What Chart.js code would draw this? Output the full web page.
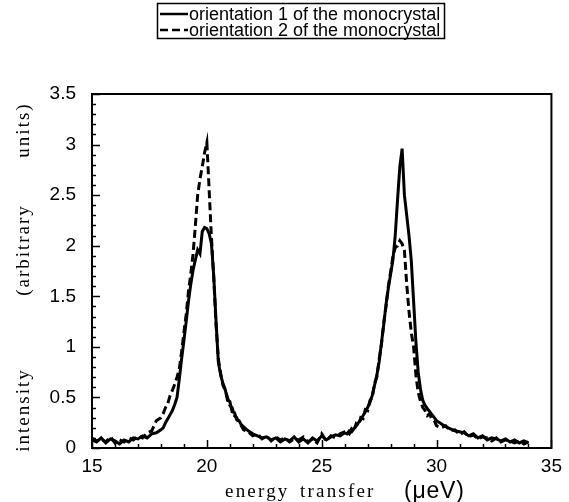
<!DOCTYPE html>
<html>
<head>
<meta charset="utf-8">
<script src="https://cdn.jsdelivr.net/npm/chart.js@4.4.0/dist/chart.umd.min.js"></script>
<style>
  body { margin: 0; background: #fff; }
</style>
</head>
<body>
<canvas id="spectrum" width="569" height="502"></canvas>
<script>
// ======================================
// Data: energy transfer (µeV), finer step around the two peaks
// ======================================
const energy = [
  15.0, 15.2, 15.4, 15.6, 15.8, 16.0, 16.2, 16.4, 16.6, 16.8, 17.0, 17.2, 17.4, 17.6, 17.8,
  18.0, 18.1, 18.2, 18.3, 18.4, 18.5, 18.6, 18.7, 18.8, 18.9, 19.0, 19.1, 19.2, 19.3, 19.4,
  19.5, 19.6, 19.7, 19.8, 19.9, 20.0, 20.1, 20.2, 20.3, 20.4, 20.5, 20.6, 20.7, 20.8, 20.9,
  21.0, 21.1, 21.2, 21.3, 21.4, 21.5, 21.6,
  21.8, 22.0, 22.2, 22.4, 22.6, 22.8, 23.0, 23.2, 23.4, 23.6, 23.8, 24.0, 24.2, 24.4, 24.6,
  24.8, 25.0, 25.2, 25.4, 25.6, 25.8, 26.0,
  26.1, 26.2, 26.3, 26.4, 26.5, 26.6, 26.7, 26.8, 26.9, 27.0, 27.1, 27.2, 27.3, 27.4, 27.5,
  27.6, 27.7, 27.8, 27.9, 28.0, 28.1, 28.2, 28.3, 28.4, 28.5, 28.6, 28.7, 28.8, 28.9, 29.0,
  29.1, 29.2, 29.3, 29.4, 29.5, 29.6, 29.7, 29.8, 29.9, 30.0,
  30.2, 30.4, 30.6, 30.8, 31.0, 31.2, 31.4, 31.6, 31.8, 32.0, 32.2, 32.4, 32.6, 32.8, 33.0,
  33.2, 33.4, 33.6, 33.8, 34.0
];

// orientation 1 of the monocrystal (solid)
const orient1 = [
  0.08, 0.06, 0.10, 0.05, 0.09, 0.07, 0.04, 0.08, 0.06, 0.10, 0.09, 0.12, 0.10, 0.14, 0.15,
  0.18, 0.20, 0.25, 0.29, 0.33, 0.37, 0.43, 0.50, 0.68, 0.88, 1.06, 1.25, 1.45, 1.62, 1.76,
  1.86, 1.96, 1.92, 2.14, 2.18, 2.17, 2.12, 2.02, 1.70, 1.25, 0.85, 0.72, 0.64, 0.58, 0.47,
  0.46, 0.36, 0.35, 0.28, 0.27, 0.23, 0.21,
  0.17, 0.14, 0.12, 0.10, 0.11, 0.08, 0.10, 0.06, 0.09, 0.07, 0.11, 0.06, 0.09, 0.05, 0.10,
  0.07, 0.12, 0.08, 0.11, 0.13, 0.12, 0.15,
  0.14, 0.17, 0.16, 0.19, 0.22, 0.25, 0.28, 0.32, 0.36, 0.40, 0.45, 0.52, 0.62, 0.72, 0.85,
  1.04, 1.22, 1.42, 1.58, 1.72, 1.86, 2.10, 2.45, 2.78, 2.96, 2.50, 2.30, 2.10, 1.85, 1.45,
  1.05, 0.75, 0.58, 0.47, 0.42, 0.39, 0.36, 0.33, 0.30, 0.27,
  0.24, 0.21, 0.19, 0.17, 0.16, 0.15, 0.12, 0.14, 0.10, 0.12, 0.08, 0.10, 0.09, 0.07, 0.09,
  0.06, 0.08, 0.05, 0.07, 0.05
];

// orientation 2 of the monocrystal (dashed)
const orient2 = [
  0.10, 0.07, 0.09, 0.06, 0.11, 0.05, 0.08, 0.06, 0.10, 0.08, 0.12, 0.10, 0.15, 0.17, 0.27,
  0.30, 0.34, 0.40, 0.44, 0.52, 0.57, 0.63, 0.70, 0.78, 0.95, 1.14, 1.32, 1.55, 1.72, 1.92,
  2.20, 2.50, 2.66, 2.78, 2.92, 3.02, 2.55, 2.08, 1.68, 1.22, 0.88, 0.74, 0.62, 0.57, 0.50,
  0.42, 0.40, 0.32, 0.30, 0.24, 0.22, 0.18,
  0.16, 0.12, 0.14, 0.09, 0.12, 0.07, 0.11, 0.08, 0.10, 0.06, 0.09, 0.08, 0.11, 0.06, 0.09,
  0.05, 0.14, 0.07, 0.12, 0.10, 0.14, 0.16,
  0.16, 0.14, 0.19, 0.17, 0.24, 0.22, 0.30, 0.29, 0.38, 0.37, 0.47, 0.50, 0.64, 0.70, 0.88,
  1.02, 1.24, 1.40, 1.60, 1.74, 1.90, 1.98, 2.00, 2.05, 2.02, 1.95, 1.62, 1.35, 1.14, 1.00,
  0.72, 0.55, 0.46, 0.40, 0.37, 0.32, 0.34, 0.28, 0.27, 0.22,
  0.20, 0.22, 0.17, 0.18, 0.13, 0.16, 0.11, 0.13, 0.09, 0.11, 0.10, 0.07, 0.10, 0.06, 0.08,
  0.07, 0.05, 0.07, 0.04, 0.06
];

const seriesLabels = ['orientation 1 of the monocrystal', 'orientation 2 of the monocrystal'];
const xRange = [15, 35];
const yRange = [0, 3.5];
const xStep = 5;
const yStep = 0.5;

const SANS = '"Liberation Sans", Arial, sans-serif';
const SERIF = '"Liberation Serif", "Times New Roman", serif';

function toPoints(ys) {
  return energy.map((e, i) => ({ x: e, y: ys[i] }));
}

function setSpacing(ctx, px) {
  if ('letterSpacing' in ctx) ctx.letterSpacing = px + 'px';
}

// ======================================
// Frame, inward ticks, axis titles, legend box
// ======================================
const decorPlugin = {
  id: 'decor',
  afterDraw(chart) {
    const ctx = chart.ctx;
    const a = chart.chartArea;
    const xs = chart.scales.x;
    const ys = chart.scales.y;
    ctx.save();
    ctx.strokeStyle = '#000';
    ctx.fillStyle = '#000';

    // plot frame
    ctx.lineWidth = 2;
    ctx.strokeRect(a.left, a.top, a.right - a.left, a.bottom - a.top);

    // minor / major ticks pointing inside
    ctx.lineWidth = 1.5;
    ctx.beginPath();
    for (let i = 0; i <= 35; i++) {
      const y = Math.round(ys.getPixelForValue(i / 10)) + 0.5;
      const len = i % 5 === 0 ? 8 : 4;
      ctx.moveTo(a.left, y);
      ctx.lineTo(a.left + len, y);
    }
    for (let v = xRange[0]; v <= xRange[1]; v++) {
      const x = Math.round(xs.getPixelForValue(v)) + 0.5;
      const len = v % 5 === 0 ? 8 : 4;
      ctx.moveTo(x, a.bottom);
      ctx.lineTo(x, a.bottom - len);
    }
    ctx.stroke();

    // x title: serif words, sans unit
    ctx.textBaseline = 'alphabetic';
    ctx.textAlign = 'left';
    ctx.font = '19px ' + SERIF;
    setSpacing(ctx, 2.2);
    const titleY = 497;
    ctx.fillText('energy', 225, titleY);
    ctx.fillText('transfer', 300, titleY);
    setSpacing(ctx, 0.8);
    ctx.font = '23px ' + SANS;
    ctx.fillText('(\u03BCeV)', 404, titleY + 1);

    // y title, rotated, words spread along the axis
    ctx.save();
    ctx.translate(29, 0);
    ctx.rotate(-Math.PI / 2);
    ctx.textAlign = 'center';
    ctx.font = '19px ' + SERIF;
    setSpacing(ctx, 2);
    ctx.fillText('intensity', -410, 0);
    ctx.fillText('(arbitrary', -250, 0);
    ctx.fillText('units)', -130, 0);
    ctx.restore();

    // legend box
    const lx = 157, ly = 3, lw = 287, lh = 35;
    setSpacing(ctx, 0);
    ctx.lineWidth = 1.5;
    ctx.strokeRect(lx + 0.5, ly + 0.5, lw, lh);
    ctx.font = '18px ' + SANS;
    ctx.textAlign = 'left';
    ctx.textBaseline = 'middle';
    chart.data.datasets.forEach((ds, i) => {
      const rowY = ly + 11 + i * 16;
      ctx.lineWidth = 2.5;
      ctx.setLineDash(ds.borderDash || []);
      ctx.beginPath();
      ctx.moveTo(lx + 3, rowY);
      ctx.lineTo(lx + 31, rowY);
      ctx.stroke();
      ctx.setLineDash([]);
      ctx.fillText(ds.label, lx + 32, rowY + 1);
    });
    ctx.restore();
  }
};

// ======================================
// Chart
// ======================================
const ctx = document.getElementById('spectrum').getContext('2d');
new Chart(ctx, {
  type: 'line',
  data: {
    datasets: [
      {
        label: seriesLabels[0],
        data: toPoints(orient1),
        borderColor: '#000',
        borderWidth: 3,
        pointRadius: 0,
        tension: 0,
        fill: false
      },
      {
        label: seriesLabels[1],
        data: toPoints(orient2),
        borderColor: '#000',
        borderWidth: 3,
        borderDash: [8, 4],
        pointRadius: 0,
        tension: 0,
        fill: false
      }
    ]
  },
  options: {
    responsive: false,
    animation: false,
    devicePixelRatio: 1,
    layout: { padding: { left: 0, top: 94, right: 17, bottom: 0 } },
    plugins: {
      legend: { display: false },
      tooltip: { enabled: false }
    },
    scales: {
      x: {
        type: 'linear',
        min: xRange[0],
        max: xRange[1],
        grid: { display: false, drawTicks: false },
        border: { display: false },
        ticks: {
          stepSize: xStep,
          padding: 7,
          color: '#000',
          font: { family: SANS, size: 19 },
          callback: (v) => String(v)
        },
        afterFit(scale) { scale.height = 54; }
      },
      y: {
        min: yRange[0],
        max: yRange[1],
        grid: { display: false, drawTicks: false },
        border: { display: false },
        ticks: {
          stepSize: yStep,
          padding: 16,
          color: '#000',
          font: { family: SANS, size: 19 },
          callback: (v) => String(v)
        },
        afterFit(scale) { scale.width = 92; }
      }
    }
  },
  plugins: [decorPlugin]
});
</script>
</body>
</html>
